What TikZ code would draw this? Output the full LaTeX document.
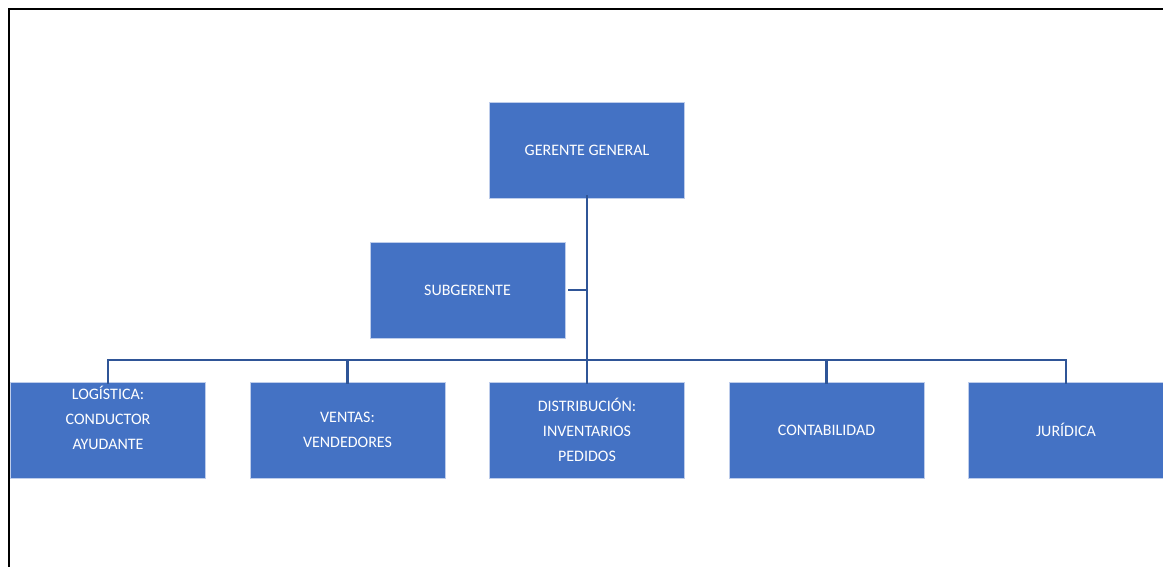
\documentclass[tikz,border=0pt]{standalone}
\usepackage{fontspec}
\setmainfont{Carlito}
\usepackage{xcolor}
\definecolor{boxblue}{RGB}{68,114,196}
\definecolor{lineblue}{RGB}{47,85,151}
\definecolor{edgeblue}{RGB}{190,205,235}

\begin{document}
\begin{tikzpicture}[x=0.75pt,y=0.75pt,yscale=-1,xscale=1,
  unit/.style={draw=edgeblue,line width=0.4pt,fill=boxblue,text=white,minimum width=146.25pt,minimum height=72pt,inner sep=0pt,outer sep=0pt,align=center,font=\fontsize{12}{18.75}\selectfont},
  link/.style={draw=lineblue,line width=1.7pt}]

\useasboundingbox (0,0) rectangle (1163,567);
\draw [line width=1.2pt]  (9,567) -- (9,9) -- (1163,9) ;

\node [unit] (gg) at (587,150) {GERENTE GENERAL};
\node [unit] (sub) at (467.5,290) {SUBGERENTE};

\node [unit] (log) at (108,430) {LOG\'ISTICA:\\CONDUCTOR\\AYUDANTE\\\mbox{}};
\node [unit] (ven) at (347.5,430) {VENTAS:\\VENDEDORES};
\node [unit] (dis) at (587,430) {DISTRIBUCI\'ON:\\INVENTARIOS\\PEDIDOS};
\node [unit] (con) at (826.5,430) {CONTABILIDAD};
\node [unit] (jur) at (1066,430) {JUR\'IDICA};

\coordinate (bus) at (587,360);

\draw [link]  ([yshift=-2pt]gg.south) -- ([yshift=1.5pt]dis.north) ;
\draw [link]  ([xshift=2.5pt]sub.east) -- (sub.east -| gg.south) ;
\draw [link]  ([yshift=1.5pt]log.north) -- (log.north |- bus) -- (jur.north |- bus) -- ([yshift=1.5pt]jur.north) ;
\draw [link]  ([yshift=1.5pt]ven.north) -- (ven.north |- bus) ;
\draw [link]  ([yshift=1.5pt]con.north) -- (con.north |- bus) ;

\end{tikzpicture}
\end{document}
